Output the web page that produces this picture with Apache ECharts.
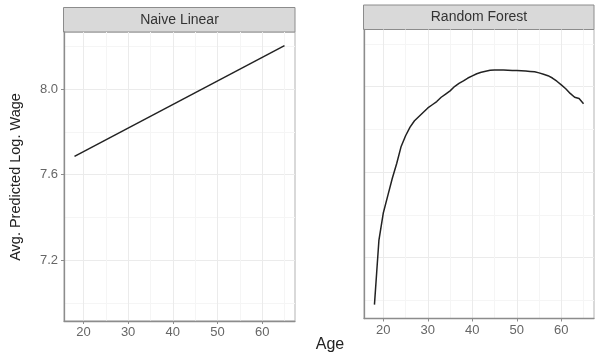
<!DOCTYPE html>
<html>
<head>
<meta charset="utf-8">
<script src="https://cdn.jsdelivr.net/npm/echarts@6/dist/echarts.min.js"></script>
<style>
  html, body { margin: 0; padding: 0; background: #fff; }
  #chart { width: 595px; height: 352px; }
</style>
</head>
<body>
<div id="chart"></div>
<script>
// facet titles
const panels = ['Naive Linear', 'Random Forest'];

// Naive Linear: straight line between the two ends
const linAges = [18, 65];
const linWage = [7.685, 8.203];

// Random Forest partial dependence
const rfAges = [18, 18.5, 19, 20, 21, 22, 23, 24, 25, 26, 27, 28, 29, 30, 31, 32, 33, 34, 35,
  36, 37, 38, 39, 40, 41, 42, 43, 44, 45, 46, 47, 48, 49, 50, 51, 52, 53, 54, 55, 56, 57,
  58, 59, 60, 61, 62, 63, 64, 65];
const rfWage = [6.98, 7.13, 7.28, 7.41, 7.49, 7.57, 7.64, 7.72, 7.77, 7.81, 7.84, 7.86, 7.88,
  7.90, 7.915, 7.93, 7.95, 7.965, 7.98, 8.0, 8.015, 8.027, 8.04, 8.05, 8.06, 8.067, 8.072,
  8.076, 8.078, 8.078, 8.077, 8.076, 8.075, 8.075, 8.074, 8.073, 8.071, 8.069, 8.064, 8.058,
  8.051, 8.04, 8.025, 8.008, 7.99, 7.968, 7.95, 7.944, 7.92];

// tick labels / grid breaks
const xTicks = [20, 30, 40, 50, 60];
const xMinor = [25, 35, 45, 55, 65];
const yTicks = [7.2, 7.6, 8.0];
const yMinor = [7.0, 7.4, 7.8, 8.2];

const xMin = 15.65, xMax = 67.35;
const yMin = 6.915, yMax = 8.267;

const FONT = 'Liberation Sans, Arial, sans-serif';
const pairs = (xs, ys) => xs.map((x, i) => [x, ys[i]]);

const grids = [
  { left: 64, top: 32, width: 231, height: 289 },
  { left: 364, top: 29.5, width: 230, height: 289 }
];

const xAxes = [];
const yAxes = [];
grids.forEach((g, i) => {
  xAxes.push({
    type: 'value', gridIndex: i, min: xMin, max: xMax,
    axisLine: { show: true, lineStyle: { color: '#8c8c8c', width: 1.3 } },
    axisTick: { show: true, customValues: xTicks, length: 3, lineStyle: { color: '#8c8c8c' } },
    axisLabel: { customValues: xTicks, color: '#666', fontSize: 13, fontFamily: FONT, margin: 5 },
    splitLine: { show: true, lineStyle: { color: '#ebebeb', width: 1 } }
  });
  xAxes.push({
    type: 'value', gridIndex: i, min: xMin, max: xMax,
    axisLine: { show: false },
    axisTick: { show: false, customValues: xMinor },
    axisLabel: { show: false, customValues: xMinor },
    splitLine: { show: true, lineStyle: { color: '#f5f5f5', width: 1 } }
  });
  yAxes.push({
    type: 'value', gridIndex: i, min: yMin, max: yMax,
    axisLine: { show: true, lineStyle: { color: '#8c8c8c', width: 1.3 } },
    axisTick: { show: i === 0, customValues: yTicks, length: 3, lineStyle: { color: '#8c8c8c' } },
    axisLabel: {
      show: i === 0, customValues: yTicks, color: '#666', fontSize: 13, fontFamily: FONT, margin: 6,
      formatter: (v) => v.toFixed(1)
    },
    splitLine: { show: true, lineStyle: { color: '#ebebeb', width: 1 } }
  });
  yAxes.push({
    type: 'value', gridIndex: i, min: yMin, max: yMax,
    axisLine: { show: false },
    axisTick: { show: false, customValues: yMinor },
    axisLabel: { show: false, customValues: yMinor },
    splitLine: { show: true, lineStyle: { color: '#f5f5f5', width: 1 } }
  });
});

const strips = grids.map((g, i) => ({
  type: 'group',
  children: [
    {
      type: 'rect',
      shape: { x: g.left - 0.5, y: g.top - 24.5, width: g.width + 0.5, height: 24.5 },
      style: { fill: '#d9d9d9', stroke: '#8c8c8c', lineWidth: 1 }
    },
    {
      type: 'text',
      x: g.left + g.width / 2, y: g.top - 12,
      style: {
        text: panels[i], fill: '#333', font: '14px ' + FONT,
        textAlign: 'center', textVerticalAlign: 'middle'
      }
    }
  ]
}));

const chart = echarts.init(document.getElementById('chart'));
chart.setOption({
  animation: false,
  backgroundColor: '#fff',
  grid: grids.map(g => Object.assign({ show: true, borderColor: '#b3b3b3', borderWidth: 1, backgroundColor: '#fff' }, g)),
  xAxis: xAxes,
  yAxis: yAxes,
  graphic: strips.concat([
    {
      type: 'text', x: 330, y: 345,
      style: { text: 'Age', fill: '#222', font: '16px ' + FONT, textAlign: 'center', textVerticalAlign: 'middle' }
    },
    {
      type: 'text', x: 16, y: 177, rotation: Math.PI / 2,
      style: { text: 'Avg. Predicted Log. Wage', fill: '#222', font: '14.5px ' + FONT, textAlign: 'center', textVerticalAlign: 'middle' }
    }
  ]),
  series: [
    {
      type: 'line', xAxisIndex: 0, yAxisIndex: 0, data: pairs(linAges, linWage),
      showSymbol: false, lineStyle: { color: '#222', width: 1.5 }
    },
    {
      type: 'line', xAxisIndex: 2, yAxisIndex: 2, data: pairs(rfAges, rfWage),
      showSymbol: false, lineStyle: { color: '#222', width: 1.5 }
    }
  ]
});
</script>
</body>
</html>
